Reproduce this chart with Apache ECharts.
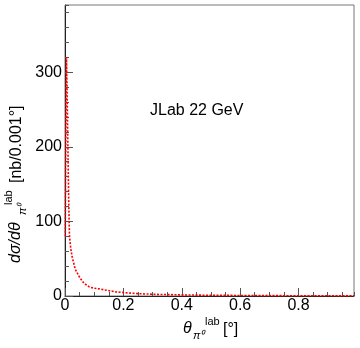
<!DOCTYPE html>
<html>
<head>
<meta charset="utf-8">
<script src="https://cdn.jsdelivr.net/npm/echarts@6/dist/echarts.min.js"></script>
<style>
  html, body { margin: 0; padding: 0; background: #fff; }
  #chart { width: 360px; height: 348px; }
</style>
</head>
<body>
<div id="chart"></div>
<script>
// theta (deg) and dsigma/dtheta (nb/0.001 deg)
const thetaLab = [0.001, 0.003, 0.005, 0.007, 0.009, 0.011, 0.013, 0.0154, 0.02, 0.0247, 0.035, 0.05, 0.065, 0.084, 0.1, 0.118, 0.152, 0.175, 0.22, 0.26, 0.31, 0.4, 0.49, 0.6, 0.7, 0.8, 0.9, 0.99];
const dSigma = [80, 230, 320, 280, 225, 170, 120, 80, 63, 52, 36, 25, 17, 12, 10.5, 9.5, 7, 5.5, 4, 3, 2.2, 1.5, 1, 0.7, 0.5, 0.35, 0.25, 0.2];
const xMajorStep = 0.2;
const xMinorStep = 0.05;
const yMajorStep = 100;
const yMinorStep = 20;

const font = 'Liberation Sans, Arial, sans-serif';
const curve = thetaLab.map((t, i) => [t, dSigma[i]]);

const chart = echarts.init(document.getElementById('chart'));

const majorX = {
  type: 'value', min: 0, max: 0.99, interval: xMajorStep, position: 'bottom',
  axisLine: { show: true, onZero: false, lineStyle: { color: '#222', width: 1 } },
  axisTick: { show: true, inside: true, length: 8, lineStyle: { color: '#555' } },
  axisLabel: { show: true, margin: 2, fontSize: 16, color: '#000', fontFamily: font, showMaxLabel: false },
  splitLine: { show: false }
};
const minorX = {
  type: 'value', min: 0, max: 0.99, interval: xMinorStep, position: 'bottom',
  axisLine: { show: false },
  axisTick: { show: true, inside: true, length: 4, lineStyle: { color: '#555' } },
  axisLabel: { show: false },
  splitLine: { show: false }
};
const majorY = {
  type: 'value', min: 0, max: 390, interval: yMajorStep, position: 'left',
  axisLine: { show: true, onZero: false, lineStyle: { color: '#222', width: 1 } },
  axisTick: { show: true, inside: true, length: 8, lineStyle: { color: '#555' } },
  axisLabel: { show: true, margin: 3, fontSize: 16, color: '#000', fontFamily: font, showMaxLabel: false },
  splitLine: { show: false }
};
const minorY = {
  type: 'value', min: 0, max: 390, interval: yMinorStep, position: 'left',
  axisLine: { show: false },
  axisTick: { show: true, inside: true, length: 4, lineStyle: { color: '#555' } },
  axisLabel: { show: false },
  splitLine: { show: false }
};

const option = {
  animation: false,
  backgroundColor: '#fff',
  grid: { left: 65, right: 6, top: 5, bottom: 52, show: true, borderColor: '#777', borderWidth: 1, backgroundColor: 'transparent' },
  xAxis: [majorX, minorX],
  yAxis: [majorY, minorY],
  series: [
    {
      type: 'line',
      xAxisIndex: 0,
      yAxisIndex: 0,
      data: curve,
      showSymbol: false,
      smooth: false,
      clip: true,
      lineStyle: { color: '#ff0000', width: 1.6, type: [2, 1.5] }
    }
  ],
  graphic: [
    {
      type: 'text', left: 150, top: 103,
      style: { text: 'JLab 22 GeV', fontSize: 16, fontFamily: font, fill: '#000' }
    },
    // x title
    {
      type: 'group', x: 183, y: 329,
      children: [
        { type: 'text', x: 0, y: 0, style: { text: 'θ', fontSize: 16, fontStyle: 'italic', fontFamily: font, fill: '#000', verticalAlign: 'middle' } },
        { type: 'text', x: 10, y: 7, style: { text: 'π⁰', fontSize: 11, fontStyle: 'italic', fontFamily: font, fill: '#000', verticalAlign: 'middle' } },
        { type: 'text', x: 22, y: -7, style: { text: 'lab', fontSize: 11, fontFamily: font, fill: '#000', verticalAlign: 'middle' } },
        { type: 'text', x: 40, y: 1, style: { text: '[°]', fontSize: 16, fontFamily: font, fill: '#000', verticalAlign: 'middle' } }
      ]
    },
    // y title, rotated
    {
      type: 'group', x: 16, y: 263, rotation: Math.PI / 2,
      children: [
        { type: 'text', x: 0, y: 0, style: { text: 'dσ/dθ', fontSize: 16, fontStyle: 'italic', fontFamily: font, fill: '#000', verticalAlign: 'middle' } },
        { type: 'text', x: 48, y: 7, style: { text: 'π⁰', fontSize: 11, fontStyle: 'italic', fontFamily: font, fill: '#000', verticalAlign: 'middle' } },
        { type: 'text', x: 58, y: -7, style: { text: 'lab', fontSize: 11, fontFamily: font, fill: '#000', verticalAlign: 'middle' } },
        { type: 'text', x: 80, y: 1, style: { text: '[nb/0.001°]', fontSize: 16, fontFamily: font, fill: '#000', verticalAlign: 'middle' } }
      ]
    }
  ]
};

chart.setOption(option);
</script>
</body>
</html>
